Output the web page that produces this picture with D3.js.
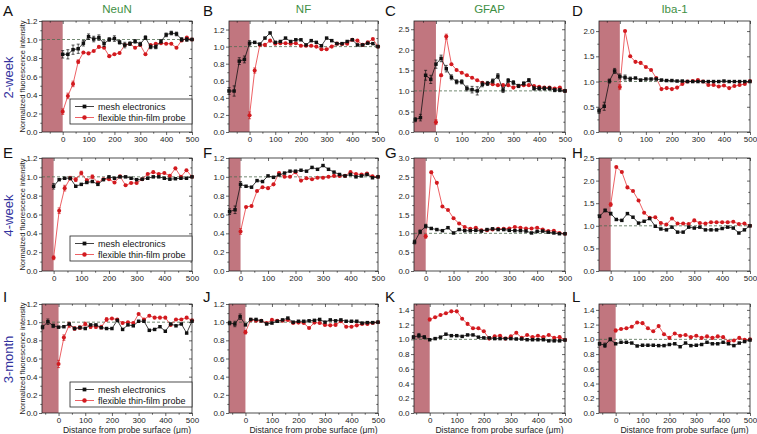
<!DOCTYPE html>
<html>
<head>
<meta charset="utf-8">
<script src="https://cdn.jsdelivr.net/npm/d3@7"></script>
<style>
  body { margin: 0; background: #fff; }
  svg { display: block; font-family: "Liberation Sans", Arial, sans-serif; }
</style>
</head>
<body>
<svg id="chart" width="757" height="434"></svg>
<script>
// distances from probe surface (um)
const dist0 = [0,20,40,60,80,100,120,140,160,180,200,220,240,260,280,300,320,340,360,380,400,420,440,460,480,500]
const dist40 = [-40,-20,0,20,40,60,80,100,120,140,160,180,200,220,240,260,280,300,320,340,360,380,400,420,440,460,480,500]
const dist60 = [-60,-40,-20,0,20,40,60,80,100,120,140,160,180,200,220,240,260,280,300,320,340,360,380,400,420,440,460,480,500]
const dist80 = [-80,-60,-40,-20,0,20,40,60,80,100,120,140,160,180,200,220,240,260,280,300,320,340,360,380,400,420,440,460,480,500]

const markers = ['A','B','C','D','E','F','G','H','I','J','K','L']
const stains = ['NeuN', 'NF', 'GFAP', 'Iba-1']
const timepoints = ['2-week', '4-week', '3-month']
const seriesNames = ['mesh electronics', 'flexible thin-film probe']

/* ---------------- 2-week ---------------- */
const neun2wMesh = [0.84,0.84,0.89,0.90,0.96,1.03,1.005,1.02,0.955,1.0,1.01,0.97,0.94,0.955,0.98,0.95,1.02,0.92,0.92,0.98,1.05,1.07,1.06,1.0,1.0,1.0]
const neun2wMeshErr = [0.04,0.05,0.05,0.05,0.03,0.03,0.03,0.03,0.03,0.02,0.03,0.02,0.03,0.02,0.02,0.02,0.02,0.02,0.02,0.02,0.02,0.02,0.02,0.02,0.02,0]
const neun2wFlex = [0.22,0.39,0.52,0.76,0.86,0.85,0.875,0.92,0.91,0.82,0.84,0.855,0.94,0.955,0.91,0.94,0.84,0.94,0.955,0.96,0.955,0.955,0.91,0.99,1.02,1.0]
const neun2wFlexErr = [0.03,0.03,0.03,0.02]

const nf2wMesh = [0.48,0.48,0.83,0.85,1.04,1.05,1.03,1.10,1.16,1.05,1.06,1.10,1.06,1.08,1.08,1.02,1.07,1.05,1.01,1.10,1.07,1.035,1.035,1.06,1.08,1.02,1.02,1.04,1.035,1.0]
const nf2wMeshErr = [0.04,0.06,0.04,0.04,0.03]
const nf2wFlex = [0.195,0.72,1.02,1.02,1.07,1.035,1.04,1.04,1.035,1.04,1.01,1.01,1.01,1.0,0.97,0.97,1.0,1.035,1.03,1.035,1.08,1.07,1.02,1.05,1.09,1.0]
const nf2wFlexErr = [0.04,0.03]

const gfap2wMesh = [0.30,0.35,1.38,1.28,1.65,1.79,1.54,1.33,1.22,1.22,1.06,1.03,1.0,1.16,1.18,1.24,1.36,1.02,1.25,1.2,1.12,1.18,1.26,1.06,1.06,1.06,1.06,1.02,1.02,1.0]
const gfap2wMeshErr = [0.05,0.08,0.12,0.1,0.1,0.08,0.08,0.06,0.05,0.05,0.06,0.08,0.1,0.06,0.05,0.05,0.06,0.06,0.05,0.05,0.04,0.04,0.04,0.04,0.04,0.04,0.04,0.04,0.04,0.03]
const gfap2wFlex = [0.24,1.38,2.32,1.65,1.51,1.44,1.38,1.32,1.26,1.2,1.18,1.16,1.14,1.14,1.14,1.08,1.12,1.14,1.14,1.12,1.10,1.08,1.08,1.06,1.08,1.0]
const gfap2wFlexErr = [0.06,0.03,0.06]

const iba2wMesh = [0.42,0.51,1.01,1.21,1.10,1.08,1.05,1.07,1.03,1.05,1.05,1.05,1.03,1.02,1.02,1.01,1.01,1.0,1.0,1.0,1.0,1.0,1.0,1.0,1.01,1.0,1.0,1.0,1.0,1.0]
const iba2wMeshErr = [0.05,0.08,0.04,0.05,0.05,0.05,0.04]
const iba2wFlex = [0.89,2.0,1.5,1.39,1.37,1.29,1.23,1.07,0.85,0.87,0.85,0.88,0.95,1.0,1.01,1.03,1.0,0.93,0.93,0.9,0.92,0.87,0.91,0.93,0.95,1.01]
const iba2wFlexErr = [0.05]

/* ---------------- 4-week ---------------- */
const neun4wMesh = [0.90,0.97,0.985,0.985,0.90,0.92,0.94,0.95,0.92,0.97,1.0,0.985,1.0,1.0,0.985,0.97,0.975,0.985,1.0,1.0,0.985,0.975,0.98,0.985,0.985,1.0]
const neun4wMeshErr = [0.03]
const neun4wFlex = [0.14,0.64,0.88,0.985,0.97,1.04,0.96,1.0,0.94,0.975,0.975,0.94,1.005,0.91,0.935,0.935,0.975,1.03,1.05,1.03,1.04,1.01,1.09,1.0,1.07,1.0]
const neun4wFlexErr = [0.02,0.03,0.03,0.02,0.02,0.02,0.02,0.02]

const nf4wMesh = [0.63,0.65,0.92,0.90,0.89,0.96,0.95,1.01,0.995,1.02,1.04,1.06,1.06,1.07,1.06,1.10,1.08,1.12,1.08,1.05,1.025,1.01,1.025,1.0,1.01,1.025,0.99,1.0]
const nf4wMeshErr = [0.03,0.04,0.03]
const nf4wFlex = [0.42,0.68,0.69,0.85,0.89,0.88,0.92,1.04,1.0,1.0,1.05,0.96,0.985,0.975,0.99,0.99,1.0,1.01,1.01,1.01,1.05,1.03,1.025,1.035,1.005,1.0]
const nf4wFlexErr = [0.03]

const gfap4wMesh = [0.77,1.04,1.19,1.13,1.10,1.07,1.15,1.01,1.10,1.07,1.07,1.08,1.06,1.10,1.12,1.10,1.10,1.08,1.07,1.07,1.06,1.01,1.05,1.06,1.03,1.01,0.99,0.99]
const gfap4wMeshErr = [0.05,0.05,0.05]
const gfap4wFlex = [0.92,2.62,2.34,1.71,1.62,1.40,1.26,1.17,1.12,1.15,1.08,1.08,1.10,1.12,1.12,1.13,1.17,1.15,1.13,1.13,1.15,1.10,1.06,1.07,1.01,0.99]
const gfap4wFlexErr = [0.05,0.03]

const iba4wMesh = [1.21,1.34,1.27,1.14,1.12,1.27,1.19,1.06,1.10,1.16,0.99,0.93,0.91,0.97,0.86,0.86,0.97,0.95,0.97,0.91,0.91,0.91,0.94,0.97,0.95,0.84,0.91,1.0]
const iba4wMeshErr = [0.03,0.03,0.03]
const iba4wFlex = [1.47,2.30,2.19,1.85,1.77,1.56,1.29,1.18,1.19,1.06,1.03,1.16,1.05,1.05,1.04,1.12,1.06,1.05,1.08,1.08,1.08,1.08,1.09,1.04,1.05,1.0]
const iba4wFlexErr = [0.04]

/* ---------------- 3-month ---------------- */
const neun3mMesh = [0.945,1.005,0.96,0.945,0.95,0.98,0.93,0.94,0.93,0.97,0.97,0.94,0.93,0.93,1.02,0.92,0.97,0.96,1.01,1.01,0.91,0.92,0.95,0.90,0.98,0.96,0.98,0.88,1.01]
const neun3mMeshErr = [0.02,0.03,0.02]
const neun3mFlex = [0.54,0.83,0.97,0.93,0.94,0.98,0.95,0.95,0.945,1.03,1.04,1.03,0.99,1.0,0.99,1.09,1.03,1.07,1.05,1.05,1.05,0.97,1.03,1.03,1.05,1.02]
const neun3mFlexErr = [0.04,0.03,0.03,0.02,0.02,0.02,0.02,0.02,0.02,0.02]

const nf3mMesh = [0.99,0.98,1.06,0.97,1.03,1.03,1.015,0.98,0.99,1.01,1.025,1.045,1.0,1.01,1.01,1.015,1.02,1.03,1.0,1.025,1.015,1.025,1.01,1.01,1.01,0.99,0.995,0.995,1.0]
const nf3mMeshErr = [0.02,0.03,0.03]
const nf3mFlex = [0.89,1.025,1.015,1.015,0.99,1.025,1.015,1.015,1.025,0.99,0.995,0.99,0.935,0.995,0.99,0.97,0.965,0.97,1.01,0.95,0.95,0.965,0.98,0.98,0.99,1.0]
const nf3mFlexErr = [0.02]

const gfap3mMesh = [1.03,1.05,1.03,0.995,1.01,1.03,1.07,1.05,1.05,1.04,1.06,1.06,1.03,1.02,1.02,1.01,1.01,1.01,1.01,1.005,1.005,0.995,0.995,0.995,0.995,0.98,0.98,0.98,0.99]
const gfap3mMeshErr = [0.02,0.03,0.02]
const gfap3mFlex = [1.27,1.30,1.33,1.355,1.38,1.38,1.28,1.21,1.15,1.15,1.11,1.01,1.04,1.05,1.01,1.04,1.09,1.02,1.06,1.03,1.05,1.03,1.06,1.02,1.03,0.995]
const gfap3mFlexErr = [0.02]

const iba3mMesh = [0.94,0.92,1.0,0.94,0.96,0.96,0.95,0.91,0.92,0.92,0.92,0.915,0.915,0.93,0.94,0.90,0.95,0.915,0.92,0.93,0.96,0.94,0.94,0.96,0.94,0.915,0.95,0.97,0.99]
const iba3mMeshErr = [0.02,0.03,0.02]
const iba3mFlex = [1.12,1.14,1.15,1.17,1.23,1.22,1.15,1.11,1.18,1.07,1.02,1.08,1.05,1.06,1.03,1.05,1.02,1.04,1.02,1.04,1.03,0.97,0.985,1.02,0.995,1.0]
const iba3mFlexErr = [0.02]

// tick labels
const xTicks = [0,100,200,300,400,500]
const xMinor = [-50,50,150,250,350,450]
const yTicks12 = [0,0.2,0.4,0.6,0.8,1.0,1.2]
const yTicks14 = [0,0.2,0.4,0.6,0.8,1.0,1.2,1.4]
const yTicks20 = [0,0.5,1.0,1.5,2.0]
const yTicks25 = [0,0.5,1.0,1.5,2.0,2.5]
const yTicks30 = [0,0.5,1.0,1.5,2.0,2.5,3.0]

// panel table built from the arrays above
const panels = [
  {row: 0, col: 0, xMin: -80, yMax: 1.2, yTicks: yTicks12, mesh: [dist0, neun2wMesh, neun2wMeshErr], flex: [dist0, neun2wFlex, neun2wFlexErr]},
  {row: 0, col: 1, xMin: -80, yMax: 1.3, yTicks: yTicks12, mesh: [dist80, nf2wMesh, nf2wMeshErr], flex: [dist0, nf2wFlex, nf2wFlexErr]},
  {row: 0, col: 2, xMin: -85, yMax: 2.7, yTicks: yTicks25, mesh: [dist80, gfap2wMesh, gfap2wMeshErr], flex: [dist0, gfap2wFlex, gfap2wFlexErr]},
  {row: 0, col: 3, xMin: -80, yMax: 2.2, yTicks: yTicks20, mesh: [dist80, iba2wMesh, iba2wMeshErr], flex: [dist0, iba2wFlex, iba2wFlexErr]},
  {row: 1, col: 0, xMin: -42, yMax: 1.2, yTicks: yTicks12, mesh: [dist0, neun4wMesh, neun4wMeshErr], flex: [dist0, neun4wFlex, neun4wFlexErr]},
  {row: 1, col: 1, xMin: -42, yMax: 1.2, yTicks: yTicks12, mesh: [dist40, nf4wMesh, nf4wMeshErr], flex: [dist0, nf4wFlex, nf4wFlexErr]},
  {row: 1, col: 2, xMin: -42, yMax: 3.0, yTicks: yTicks30, mesh: [dist40, gfap4wMesh, gfap4wMeshErr], flex: [dist0, gfap4wFlex, gfap4wFlexErr]},
  {row: 1, col: 3, xMin: -42, yMax: 2.5, yTicks: yTicks25, mesh: [dist40, iba4wMesh, iba4wMeshErr], flex: [dist0, iba4wFlex, iba4wFlexErr]},
  {row: 2, col: 0, xMin: -62, yMax: 1.2, yTicks: yTicks12, mesh: [dist60, neun3mMesh, neun3mMeshErr], flex: [dist0, neun3mFlex, neun3mFlexErr]},
  {row: 2, col: 1, xMin: -62, yMax: 1.2, yTicks: yTicks12, mesh: [dist60, nf3mMesh, nf3mMeshErr], flex: [dist0, nf3mFlex, nf3mFlexErr]},
  {row: 2, col: 2, xMin: -58, yMax: 1.48, yTicks: yTicks14, mesh: [dist60, gfap3mMesh, gfap3mMeshErr], flex: [dist0, gfap3mFlex, gfap3mFlexErr]},
  {row: 2, col: 3, xMin: -62, yMax: 1.48, yTicks: yTicks14, mesh: [dist60, iba3mMesh, iba3mMeshErr], flex: [dist0, iba3mFlex, iba3mFlexErr]}
]

// layout
const cols = [{left: 42, right: 192}, {left: 229, right: 378}, {left: 414, right: 565}, {left: 599, right: 750}]
const rows = [{top: 21, bottom: 132}, {top: 158, bottom: 271}, {top: 304, bottom: 413}]
const letterX = [3, 203, 385, 572]
const letterY = [16, 158, 302]

const shade = '#c1767f'
const redLine = '#e8383d'
const redDot = '#d21a1f'
const black = '#111'

const svg = d3.select('#chart')

const toPoints = s => s[0].map((d, i) => ({x: d, y: s[1][i], e: s[2][i] || 0}))

function drawSeries(g, s, x, y, color, lineColor, shape) {
  const pts = toPoints(s)
  const line = d3.line().x(d => x(d.x)).y(d => y(d.y))
  g.append('path')
    .datum(pts)
    .attr('d', line)
    .attr('fill', 'none')
    .attr('stroke', lineColor)
    .attr('stroke-width', 0.8)
  // error bars
  const eb = g.append('g').attr('stroke', color).attr('stroke-width', 0.7)
  pts.filter(d => d.e > 0).forEach(d => {
    eb.append('line').attr('x1', x(d.x)).attr('x2', x(d.x)).attr('y1', y(d.y - d.e)).attr('y2', y(d.y + d.e))
    eb.append('line').attr('x1', x(d.x) - 1.5).attr('x2', x(d.x) + 1.5).attr('y1', y(d.y - d.e)).attr('y2', y(d.y - d.e))
    eb.append('line').attr('x1', x(d.x) - 1.5).attr('x2', x(d.x) + 1.5).attr('y1', y(d.y + d.e)).attr('y2', y(d.y + d.e))
  })
  const sym = d3.symbol().type(shape === 'square' ? d3.symbolSquare : d3.symbolCircle).size(shape === 'square' ? 12 : 13)
  g.append('g')
    .selectAll('path')
    .data(pts)
    .enter()
    .append('path')
    .attr('transform', d => `translate(${x(d.x)},${y(d.y)})`)
    .attr('d', sym)
    .attr('fill', color)
}

panels.forEach((p, i) => {
  const c = cols[p.col]
  const r = rows[p.row]
  const x = d3.scaleLinear().domain([p.xMin, 500]).range([c.left, c.right])
  const y = d3.scaleLinear().domain([0, p.yMax]).range([r.bottom, r.top])
  const g = svg.append('g')

  // probe region
  g.append('rect')
    .attr('x', x(p.xMin))
    .attr('y', r.top)
    .attr('width', x(0) - x(p.xMin))
    .attr('height', r.bottom - r.top)
    .attr('fill', shade)

  // reference line at 1.0
  g.append('line')
    .attr('x1', c.left).attr('x2', c.right)
    .attr('y1', y(1)).attr('y2', y(1))
    .attr('stroke', '#4f6b4f')
    .attr('stroke-width', 0.8)
    .attr('stroke-dasharray', '3,2')

  // axes
  const minor = xMinor.filter(v => v > p.xMin)
  const yMinor = p.yTicks.slice(1).map((v, k) => (v + p.yTicks[k]) / 2)
  if (p.yMax > p.yTicks[p.yTicks.length - 1] + 0.01) yMinor.push(p.yTicks[p.yTicks.length - 1] + (p.yTicks[1] / 2))
  const fmt = d3.format('.1f')

  const axes = [
    {a: d3.axisBottom(x).tickValues(xTicks).tickSize(3).tickPadding(1.5), t: `translate(0,${r.bottom})`},
    {a: d3.axisBottom(x).tickValues(minor).tickSize(1.7).tickFormat(''), t: `translate(0,${r.bottom})`},
    {a: d3.axisTop(x).tickValues(xTicks).tickSize(-3).tickFormat(''), t: `translate(0,${r.top})`},
    {a: d3.axisTop(x).tickValues(minor).tickSize(-1.7).tickFormat(''), t: `translate(0,${r.top})`},
    {a: d3.axisLeft(y).tickValues(p.yTicks).tickSize(3).tickPadding(1.5).tickFormat(fmt), t: `translate(${c.left},0)`},
    {a: d3.axisLeft(y).tickValues(yMinor.filter(v => v < p.yMax)).tickSize(1.7).tickFormat(''), t: `translate(${c.left},0)`},
    {a: d3.axisRight(y).tickValues(p.yTicks).tickSize(-3).tickFormat(''), t: `translate(${c.right},0)`},
    {a: d3.axisRight(y).tickValues(yMinor.filter(v => v < p.yMax)).tickSize(-1.7).tickFormat(''), t: `translate(${c.right},0)`}
  ]
  axes.forEach(ax => {
    const ag = g.append('g').attr('transform', ax.t).call(ax.a.tickSizeOuter(0))
    ag.select('.domain').remove()
    ag.selectAll('line').attr('stroke', '#222').attr('stroke-width', 0.7)
    ag.selectAll('text').attr('font-size', 8).attr('fill', '#222').attr('font-family', '"Liberation Sans", Arial, sans-serif')
  })

  // series
  drawSeries(g, p.flex, x, y, redDot, redLine, 'circle')
  drawSeries(g, p.mesh, x, y, black, black, 'square')

  // frame
  g.append('rect')
    .attr('x', c.left).attr('y', r.top)
    .attr('width', c.right - c.left).attr('height', r.bottom - r.top)
    .attr('fill', 'none')
    .attr('stroke', '#222')
    .attr('stroke-width', 0.8)

  // panel letter
  svg.append('text')
    .attr('x', letterX[p.col]).attr('y', letterY[p.row])
    .attr('font-size', 15)
    .attr('fill', '#111')
    .text(markers[i])

  if (p.col === 0) {
    // y label
    svg.append('text')
      .attr('transform', `translate(25,${(r.top + r.bottom) / 2}) rotate(-90)`)
      .attr('text-anchor', 'middle')
      .attr('font-size', 7.5)
      .attr('fill', '#222')
      .text('Normalized fluorescence intensity')
    // time point
    svg.append('text')
      .attr('transform', `translate(13,${(r.top + r.bottom) / 2 + 1}) rotate(-90)`)
      .attr('text-anchor', 'middle')
      .attr('font-size', 13)
      .attr('fill', '#33339e')
      .text(timepoints[p.row])

    // legend
    const lx = 70, ly = r.top + 78
    const lg = svg.append('g')
    lg.append('rect')
      .attr('x', lx).attr('y', ly)
      .attr('width', c.right - lx).attr('height', 25)
      .attr('fill', '#fff')
      .attr('stroke', '#222')
      .attr('stroke-width', 0.8)
    seriesNames.forEach((name, k) => {
      const yy = ly + 7.5 + k * 11
      lg.append('line')
        .attr('x1', lx + 5).attr('x2', lx + 24)
        .attr('y1', yy).attr('y2', yy)
        .attr('stroke', k === 0 ? black : redLine)
        .attr('stroke-width', 0.8)
      lg.append('path')
        .attr('transform', `translate(${lx + 14.5},${yy})`)
        .attr('d', d3.symbol().type(k === 0 ? d3.symbolSquare : d3.symbolCircle).size(k === 0 ? 14 : 16))
        .attr('fill', k === 0 ? black : redDot)
      lg.append('text')
        .attr('x', lx + 28).attr('y', yy + 3)
        .attr('font-size', 9)
        .attr('fill', '#111')
        .text(name)
    })
  }

  if (p.row === 0) {
    svg.append('text')
      .attr('x', (c.left + c.right) / 2).attr('y', 13)
      .attr('text-anchor', 'middle')
      .attr('font-size', 11.5)
      .attr('fill', '#3f8f45')
      .text(stains[p.col])
  }

  if (p.row === 2) {
    svg.append('text')
      .attr('x', (c.left + c.right) / 2 + 10).attr('y', 433)
      .attr('text-anchor', 'middle')
      .attr('font-size', 8.6)
      .attr('fill', '#222')
      .text('Distance from probe surface (\u03bcm)')
  }
})
</script>
</body>
</html>
